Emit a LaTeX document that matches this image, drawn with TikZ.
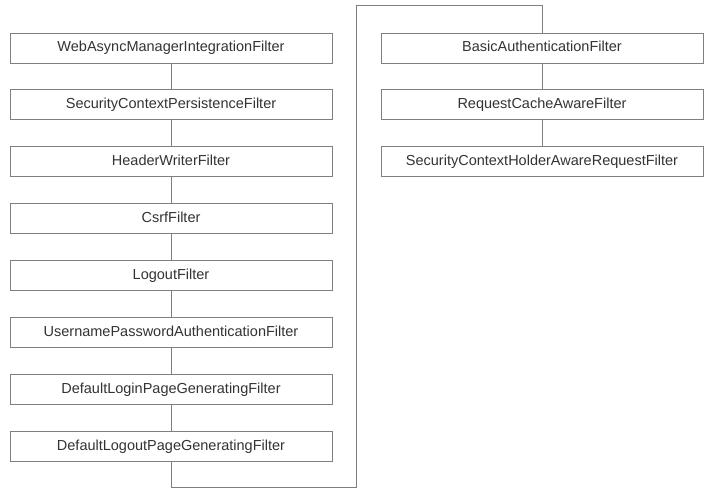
\documentclass[tikz,border=0pt]{standalone}
\usepackage{fontspec}
\setmainfont{Liberation Sans}
\definecolor{txt}{HTML}{333333}
\definecolor{ln}{HTML}{7F7F7F}
\begin{document}
\begin{tikzpicture}[x=1pt,y=-1pt,
  filterbox/.style={draw=ln,line width=0.9pt,fill=white,minimum width=322pt,minimum height=30pt,inner sep=0pt,text=txt,font=\fontsize{14.5}{16}\selectfont,text height=10.4pt,text depth=3pt},
  link/.style={draw=ln,line width=0.9pt}]
\useasboundingbox (0,0) rectangle (716,499);
\node[filterbox] (l1) at (171,48) {WebAsyncManagerIntegrationFilter};
\node[filterbox] (l2) at (171,104.9) {SecurityContextPersistenceFilter};
\node[filterbox] (l3) at (171,161.8) {HeaderWriterFilter};
\node[filterbox] (l4) at (171,218.7) {CsrfFilter};
\node[filterbox] (l5) at (171,275.6) {LogoutFilter};
\node[filterbox] (l6) at (171,332.5) {UsernamePasswordAuthenticationFilter};
\node[filterbox] (l7) at (171,389.4) {DefaultLoginPageGeneratingFilter};
\node[filterbox] (l8) at (171,446.3) {DefaultLogoutPageGeneratingFilter};
\node[filterbox] (r1) at (542,48) {BasicAuthenticationFilter};
\node[filterbox] (r2) at (542,104.9) {RequestCacheAwareFilter};
\node[filterbox] (r3) at (542,161.8) {SecurityContextHolderAwareRequestFilter};
\coordinate (c1) at (171,487.5);
\coordinate (c2) at (356,487.5);
\coordinate (c3) at (356,5.5);
\coordinate (c4) at (542,5.5);
\foreach \a/\b in {l1/l2,l2/l3,l3/l4,l4/l5,l5/l6,l6/l7,l7/l8,r1/r2,r2/r3}
  \draw[link] (\a.south) -- (\b.north);
\draw[link] (l8.south) -- (c1) -- (c2) -- (c3) -- (c4) -- (r1.north);
\end{tikzpicture}
\end{document}
